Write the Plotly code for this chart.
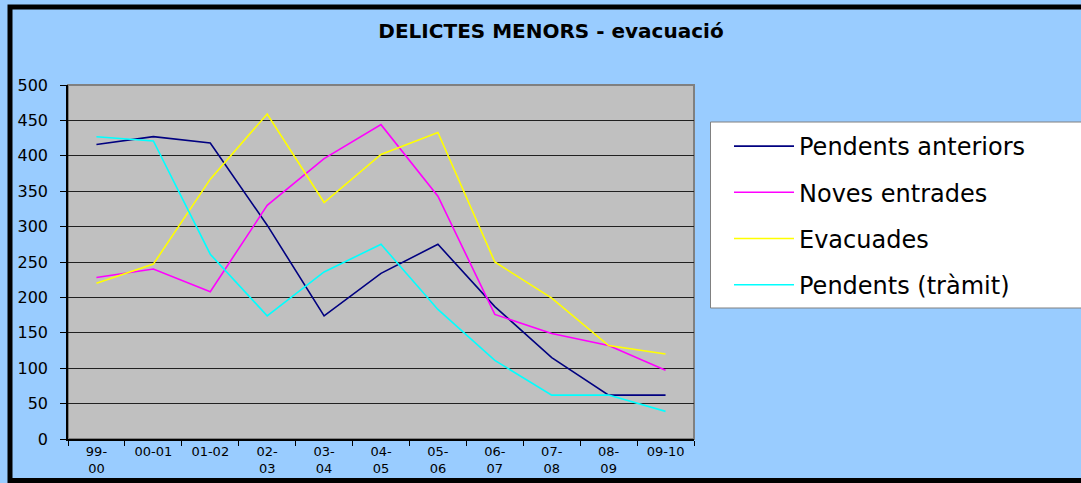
import plotly.graph_objects as go

categories = ["99-<br>00", "00-01", "01-02", "02-<br>03", "03-<br>04", "04-<br>05",
              "05-<br>06", "06-<br>07", "07-<br>08", "08-<br>09", "09-10"]
pendents_anteriors = [416, 427, 418, 302, 174, 234, 275, 187, 115, 62, 62]
noves_entrades = [228, 240, 208, 330, 396, 444, 343, 176, 149, 132, 97]
evacuades = [220, 247, 367, 459, 334, 402, 433, 250, 199, 132, 120]
pendents_tramit = [427, 421, 261, 174, 236, 275, 183, 111, 62, 62, 39]
y_ticks = [0, 50, 100, 150, 200, 250, 300, 350, 400, 450, 500]

series = [
    ("Pendents anteriors", pendents_anteriors, "#000080"),
    ("Noves entrades", noves_entrades, "#FF00FF"),
    ("Evacuades", evacuades, "#FFFF00"),
    ("Pendents (tràmit)", pendents_tramit, "#00FFFF"),
]

FONT = "DejaVu Sans, Arial, sans-serif"
W, H = 1081, 483
L, R, T, B = 68, 694, 85, 439

fig = go.Figure()
for i, (name, vals, col) in enumerate(series):
    fig.add_trace(go.Scatter(x=categories, y=vals, mode="lines", name=name,
                             legendgroup=str(i),
                             line=dict(color=col, width=1.6)))

def px_x(px):
    return (px - L) / (R - L)

def px_y(py):
    return (B - py) / (B - T)

shapes = [
    dict(type="rect", xref="paper", yref="paper", x0=0, x1=1, y0=0, y1=1,
         line=dict(color="#808080", width=2), layer="below"),
    # legend box (extends past the right edge as in the original)
    dict(type="rect", xref="paper", yref="paper",
         x0=px_x(710.5), x1=px_x(1120), y0=px_y(308), y1=px_y(122),
         fillcolor="white", line=dict(color="#808080", width=1)),
    dict(type="rect", xref="paper", yref="paper",
         x0=px_x(10), x1=px_x(1100), y0=px_y(480.5), y1=px_y(7),
         line=dict(color="black", width=5)),
]

fig.update_layout(
    width=W, height=H,
    margin=dict(l=L, r=W - R, t=T, b=H - B, pad=0, autoexpand=False),
    paper_bgcolor="#99CCFF",
    plot_bgcolor="#C0C0C0",
    font=dict(family=FONT, color="black"),
    title=dict(text="<b>DELICTES MENORS - evacuació</b>", x=551 / W, xanchor="center",
               y=1 - 31 / H, yanchor="middle", xref="container", yref="container",
               font=dict(family=FONT, size=20, color="black")),
    showlegend=True,
    legend=dict(x=px_x(711), xanchor="left", y=px_y(124), yanchor="top",
                bgcolor="rgba(0,0,0,0)", borderwidth=0,
                font=dict(family=FONT, size=24, color="black"),
                tracegroupgap=12, traceorder="grouped", itemwidth=60,
                indentation=18),
    shapes=shapes,
    xaxis=dict(type="category", tickmode="array", tickvals=categories, ticktext=categories,
               tickson="boundaries", ticks="outside", ticklen=5, tickcolor="black",
               showline=True, linecolor="black", linewidth=1.5,
               showgrid=False, tickangle=0, automargin=False,
               tickfont=dict(family=FONT, size=13, color="black"),
               range=[-0.5, 10.5], fixedrange=True),
    yaxis=dict(range=[0, 500], tickvals=y_ticks, ticks="outside", ticklen=6,
               tickcolor="black", showline=True, linecolor="black", linewidth=1.5,
               showgrid=True, gridcolor="#202020", gridwidth=1.4,
               ticklabelstandoff=9, automargin=False,
               tickfont=dict(family=FONT, size=16, color="black"),
               zeroline=False, fixedrange=True),
)

fig.write_html("out.html", config={"displayModeBar": False},
               post_script="document.body.style.margin='0';document.body.style.overflow='hidden';")
